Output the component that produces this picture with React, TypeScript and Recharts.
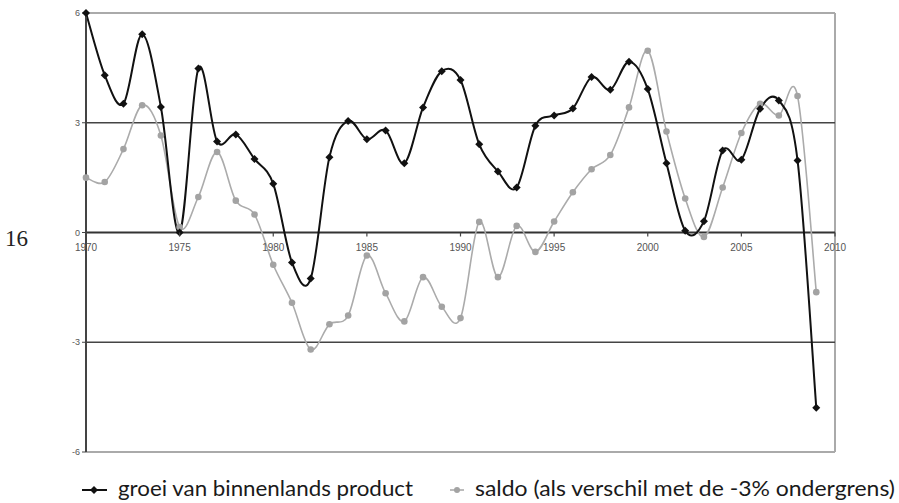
import React from "react";
import { LineChart, Line, XAxis, YAxis, ReferenceLine } from "recharts";

const years = [1970, 1971, 1972, 1973, 1974, 1975, 1976, 1977, 1978, 1979, 1980, 1981, 1982, 1983, 1984, 1985, 1986, 1987, 1988, 1989, 1990, 1991, 1992, 1993, 1994, 1995, 1996, 1997, 1998, 1999, 2000, 2001, 2002, 2003, 2004, 2005, 2006, 2007, 2008, 2009];
const groei = [6.0, 4.3, 3.52, 5.42, 3.43, 0.0, 4.48, 2.49, 2.68, 2.01, 1.33, -0.82, -1.26, 2.06, 3.05, 2.55, 2.79, 1.89, 3.42, 4.41, 4.17, 2.41, 1.67, 1.23, 2.92, 3.2, 3.39, 4.25, 3.9, 4.67, 3.92, 1.89, 0.05, 0.31, 2.24, 1.99, 3.38, 3.61, 1.97, -4.79];
const saldo = [1.5, 1.38, 2.28, 3.48, 2.65, 0.15, 0.97, 2.2, 0.87, 0.49, -0.88, -1.92, -3.2, -2.51, -2.27, -0.63, -1.66, -2.43, -1.22, -2.03, -2.34, 0.29, -1.22, 0.18, -0.53, 0.3, 1.1, 1.73, 2.12, 3.42, 4.97, 2.76, 0.93, -0.12, 1.23, 2.72, 3.52, 3.2, 3.73, -1.63];
const xTicks = [1970, 1975, 1980, 1985, 1990, 1995, 2000, 2005, 2010];
const yTicks = [-6, -3, 0, 3, 6];
const seriesNames = ["groei van binnenlands product", "saldo (als verschil met de -3% ondergrens)"];
const pageNumber = "16";

const data = years.map((y, i) => ({ year: y, groei: groei[i], saldo: saldo[i] }));

const W = 899;
const H = 503;
const XAXIS_H = 20;
const M = { top: 13, right: 64, bottom: 31, left: 0 };
const YAXIS_W = 86;
const PLOT_TOP = M.top;
const PLOT_H = H - M.top - M.bottom - XAXIS_H;
const ZERO_Y = PLOT_TOP + PLOT_H * (6 - 0) / 12;

// Catmull-Rom style smoothing (similar to Excel smoothed lines)
function smoothCurve(context: any) {
  let pts: number[][] = [];
  return {
    areaStart() {},
    areaEnd() {},
    lineStart() { pts = []; },
    lineEnd() {
      const n = pts.length;
      if (!n) return;
      context.moveTo(pts[0][0], pts[0][1]);
      if (n === 1) return;
      const t = 1 / 6;
      for (let i = 0; i < n - 1; i++) {
        const p0 = pts[i - 1] || pts[i];
        const p1 = pts[i];
        const p2 = pts[i + 1];
        const p3 = pts[i + 2] || p2;
        context.bezierCurveTo(
          p1[0] + (p2[0] - p0[0]) * t,
          p1[1] + (p2[1] - p0[1]) * t,
          p2[0] - (p3[0] - p1[0]) * t,
          p2[1] - (p3[1] - p1[1]) * t,
          p2[0],
          p2[1]
        );
      }
    },
    point(x: number, y: number) { pts.push([+x, +y]); },
  };
}

const XTick = (props: any) => {
  const { x, payload } = props;
  return (
    <g>
      <line x1={x} x2={x} y1={ZERO_Y} y2={ZERO_Y + 4} stroke="#444" strokeWidth={1.2} />
      <text x={x} y={ZERO_Y + 18} textAnchor="middle" fontSize={10} fill="#555" fontFamily="Arial, 'Liberation Sans', sans-serif">
        {payload.value}
      </text>
    </g>
  );
};

const BlackDot = (props: any) => {
  const { cx, cy } = props;
  if (cx == null || cy == null) return null;
  return <path d={`M${cx},${cy - 4}L${cx + 4},${cy}L${cx},${cy + 4}L${cx - 4},${cy}Z`} fill="#111" />;
};

const GrayDot = (props: any) => {
  const { cx, cy } = props;
  if (cx == null || cy == null) return null;
  return <circle cx={cx} cy={cy} r={3.3} fill="#a3a3a3" />;
};

export default function App() {
  return (
    <div style={{ position: "absolute", left: 0, top: 0, width: W, height: H, background: "#fff" }}>
      <LineChart width={W} height={H} data={data} margin={M}>
        <XAxis
          dataKey="year"
          type="number"
          domain={[1970, 2010]}
          ticks={xTicks}
          height={XAXIS_H}
          axisLine={false}
          tickLine={false}
          tick={<XTick />}
          interval={0}
        />
        <YAxis
          type="number"
          domain={[-6, 6]}
          ticks={yTicks}
          width={YAXIS_W}
          axisLine={{ stroke: "#444", strokeWidth: 2 }}
          tickLine={{ stroke: "#444" }}
          tickSize={4}
          tick={{ fontSize: 9, fill: "#555", fontFamily: "Arial, 'Liberation Sans', sans-serif" }}
        />
        <ReferenceLine y={6} stroke="#aaa" strokeWidth={2} />
        <ReferenceLine y={-6} stroke="#aaa" strokeWidth={2} />
        <ReferenceLine x={2010} stroke="#aaa" strokeWidth={2} />
        <ReferenceLine y={3} stroke="#444" strokeWidth={1.6} />
        <ReferenceLine y={-3} stroke="#444" strokeWidth={1.6} />
        <ReferenceLine y={0} stroke="#333" strokeWidth={1.8} />
        <Line
          dataKey="saldo"
          name={seriesNames[1]}
          type={smoothCurve as any}
          stroke="#ababab"
          strokeWidth={1.6}
          dot={<GrayDot />}
          isAnimationActive={false}
        />
        <Line
          dataKey="groei"
          name={seriesNames[0]}
          type={smoothCurve as any}
          stroke="#111"
          strokeWidth={2}
          dot={<BlackDot />}
          isAnimationActive={false}
        />
      </LineChart>
      <svg width={W} height={H} style={{ position: "absolute", left: 0, top: 0, pointerEvents: "none" }}>
        <text x={5} y={246} fontFamily="'Liberation Serif', 'DejaVu Serif', serif" fontSize={23} fill="#222">{pageNumber}</text>
        <line x1={82} x2={107} y1={490} y2={490} stroke="#111" strokeWidth={2} />
        <path d="M94,486L98,490L94,494L90,490Z" fill="#111" />
        <text x={118} y={496} fontFamily="Lato, sans-serif" fontSize={21} fill="#1a1a1a" textLength={295} lengthAdjust="spacingAndGlyphs">{seriesNames[0]}</text>
        <line x1={450} x2={464} y1={490} y2={490} stroke="#ababab" strokeWidth={1.6} />
        <circle cx={457} cy={490} r={3} fill="#a3a3a3" />
        <text x={475} y={496} fontFamily="Lato, sans-serif" fontSize={21} fill="#1a1a1a" textLength={420} lengthAdjust="spacingAndGlyphs">{seriesNames[1]}</text>
      </svg>
    </div>
  );
}
